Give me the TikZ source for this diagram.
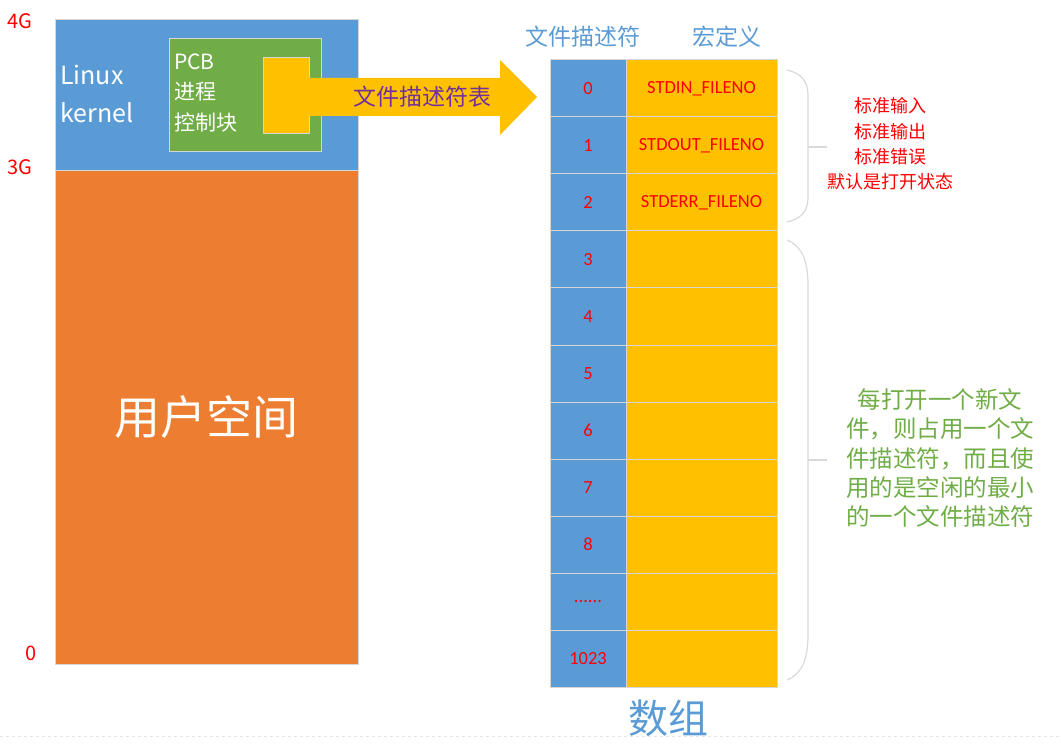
\documentclass[tikz,border=0pt]{standalone}
\usepackage{fontspec}
\setmainfont{Noto Sans CJK SC}
\newfontfamily\calfont{Carlito}
\definecolor{kblue}{HTML}{5B9BD5}
\definecolor{korange}{HTML}{ED7D31}
\definecolor{kgreen}{HTML}{70AD47}
\definecolor{kyellow}{HTML}{FFC000}
\definecolor{kpurple}{HTML}{7030A0}
\definecolor{kred}{HTML}{FF0000}
\definecolor{kgrid}{HTML}{D6D6D6}
\definecolor{kbrace}{HTML}{D9D9D9}
\newcommand{\fs}[2]{\fontsize{#1}{#2}\selectfont}
\newcommand{\sixdots}{......}
\tikzset{
  blk/.style={rectangle, inner sep=0pt, outer sep=0pt},
  cellbox/.style={blk, draw=kgrid, line width=1pt, minimum height=57pt},
  fdcell/.style={cellbox, fill=kblue, minimum width=76pt, text=kred, font=\calfont\fs{18.5}{20}},
  maccell/.style={cellbox, fill=kyellow, minimum width=151pt, text=kred, font=\calfont\fs{18.5}{20}},
  bracestyle/.style={draw=kbrace, line width=1.2pt},
  lbl/.style={inner sep=0pt, text=kred, font=\fs{20}{24}},
}
\begin{document}
\begin{tikzpicture}[x=1pt,y=-1pt]
\useasboundingbox (0,0) rectangle (1061,754);
% memory column
\node[blk, fill=kblue, draw=kgrid, minimum width=303pt, minimum height=151pt, anchor=north west] (kern) at (55,19) {};
\node[blk, fill=korange, draw=kgrid, minimum width=303pt, minimum height=494pt, anchor=north west] (user) at (55,170) {};
\node[lbl] (l4g) at (20,21) {4G};
\node[lbl] (l3g) at (20,167) {3G};
\node[lbl] (l0) at (31,653) {0};
\node[inner sep=0pt, text=white, font=\fs{25}{38}, align=left, anchor=west] (ktext) at (60,94) {Linux\\kernel};
\node[inner sep=0pt, text=white, font=\fs{46}{50}] (utext) at (206,417) {用户空间};
% PCB
\node[blk, fill=kgreen, draw=kgrid, line width=0.8pt, minimum width=152pt, minimum height=113pt, anchor=north west] (pcb) at (169,38) {};
\node[inner sep=0pt, text=white, font=\fs{21}{30.5}, align=left, anchor=west] (pcbtext) at (174,93) {PCB\\进程\\控制块};
\node[blk, fill=kyellow, draw=kgrid, line width=0.8pt, minimum width=46pt, minimum height=76pt, anchor=north west] (fdt) at (263,57) {};
% block arrow
\coordinate (tip) at (537,97);
\fill[kyellow] (fdt.east |- 0,78) -- (500,78) -- (500,60) -- (tip) -- (500,135) -- (500,116) -- (fdt.east |- 0,116) -- cycle;
\node[inner sep=0pt, text=kpurple, font=\fs{23}{26}] (arrlbl) at (422,97) {文件描述符表};
% table
\node[inner sep=0pt, text=kblue, font=\fs{23}{26}] (h1) at (583,37) {文件描述符};
\node[inner sep=0pt, text=kblue, font=\fs{23}{26}] (h2) at (727,37) {宏定义};
\foreach \i/\n/\m in {0/0/STDIN\_FILENO,1/1/STDOUT\_FILENO,2/2/STDERR\_FILENO,3/3/,4/4/,5/5/,6/6/,7/7/,8/8/,9/\sixdots/,10/1023/}{
  \node[fdcell, anchor=north west] (fd\i) at (550,60+57*\i) {\n};
  \node[maccell, anchor=north west] (mac\i) at (626,60+57*\i) {\m};
}
\node[inner sep=0pt, text=kblue, font=\fs{40}{44}] (arr) at (668,718) {数组};
% braces
\draw[bracestyle] (787,70) .. controls (800,73) and (808,80) .. (808,95) -- (808,198) .. controls (808,212) and (800,219) .. (787,222);
\draw[bracestyle] (808,147) -- (827,147);
\draw[bracestyle] (787,240) .. controls (800,245) and (808,258) .. (808,285) -- (808,635) .. controls (808,662) and (800,675) .. (787,680);
\draw[bracestyle] (808,460) -- (827,460);
\node[inner sep=0pt, text=kred, font=\fs{18}{25.3}, align=center] (std) at (890,144) {标准输入\\标准输出\\标准错误\\默认是打开状态};
\node[inner sep=0pt, text=kgreen, font=\fs{23.5}{29.3}, align=center] (note) at (940,458) {每打开一个新文\\件，则占用一个文\\件描述符，而且使\\用的是空闲的最小\\的一个文件描述符};
% faint page edge
\draw[gray!20, dashed, line width=0.8pt] (0,736) -- (1061,736);
\end{tikzpicture}
\end{document}
